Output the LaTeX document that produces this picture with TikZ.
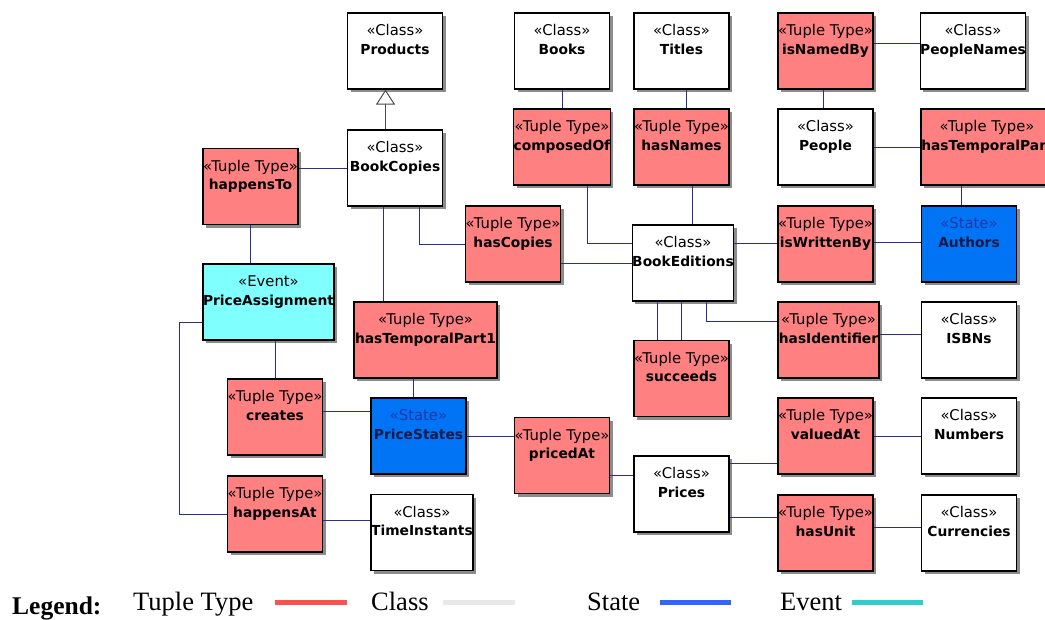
\documentclass[tikz,border=0pt]{standalone}
\usepackage{fontspec}
\setmainfont{Liberation Serif}
\newfontfamily\umlfont{DejaVu Sans}
\usepackage{xcolor}
\usetikzlibrary{arrows.meta,shadows}

\definecolor{tuplered}{RGB}{255,128,128}
\definecolor{stateblue}{RGB}{0,116,245}
\definecolor{statenavy}{RGB}{16,26,70}
\definecolor{stereoblue}{RGB}{35,55,170}
\definecolor{eventcyan}{RGB}{128,255,255}
\definecolor{connblue}{RGB}{45,45,140}
\definecolor{legred}{RGB}{255,80,80}
\definecolor{leggray}{RGB}{232,232,232}
\definecolor{legblue}{RGB}{50,100,255}
\definecolor{legcyan}{RGB}{50,204,204}

\newcommand{\stereo}[1]{{\fontsize{14.8}{18.5}\selectfont«#1»}}

\tikzset{
	umlbox/.style={draw=black,line width=1.1pt,inner sep=0pt,
		text height=41pt,text depth=35pt,minimum width=95pt,align=center,
		font=\umlfont\fontsize{13.8}{18.5}\selectfont,
		drop shadow={shadow xshift=3pt,shadow yshift=-3pt,opacity=.45,fill=black}},
	tuplebox/.style={umlbox,fill=tuplered},
	classbox/.style={umlbox,fill=white},
	statebox/.style={umlbox,fill=stateblue,text=statenavy},
	eventbox/.style={umlbox,fill=eventcyan},
	conn/.style={draw=connblue,line width=1pt},
	legtext/.style={anchor=base west,inner sep=0pt,font=\fontsize{26.5}{28}\selectfont},
}

\begin{document}
\begin{tikzpicture}[x=1pt,y=-1pt]
	\useasboundingbox (0,0) rectangle (1045,619);
	\clip (0,0) rectangle (1045,619);

%	left column
	\node[classbox] (Products) at (395,51) {\stereo{Class}\\\textbf{Products}};
	\node[classbox] (BookCopies) at (395,168) {\stereo{Class}\\\textbf{BookCopies}};
	\node[tuplebox] (happensTo) at (250.5,186.5) {\stereo{Tuple Type}\\\textbf{happensTo}};
	\node[eventbox,minimum width=131pt] (PriceAssignment) at (268.5,302)
		{\stereo{Event}\\\textbf{PriceAssignment}};
	\node[tuplebox,minimum width=143pt] (hasTemporalPart1) at (425.5,340)
		{\stereo{Tuple Type}\\\textbf{hasTemporalPart1}};
	\node[tuplebox] (hasCopies) at (513,244) {\stereo{Tuple Type}\\\textbf{hasCopies}};
	\node[tuplebox] (creates) at (275,417) {\stereo{Tuple Type}\\\textbf{creates}};
	\node[tuplebox] (happensAt) at (275,514) {\stereo{Tuple Type}\\\textbf{happensAt}};
	\node[statebox] (PriceStates) at (418.5,436)
		{{\color{stereoblue}\stereo{State}}\\\textbf{PriceStates}};
	\node[classbox,minimum width=102pt] (TimeInstants) at (422,532.5)
		{\stereo{Class}\\\textbf{TimeInstants}};
	\node[tuplebox] (pricedAt) at (562,455.5) {\stereo{Tuple Type}\\\textbf{pricedAt}};

%	right part
	\node[classbox] (Books) at (562,51) {\stereo{Class}\\\textbf{Books}};
	\node[classbox] (Titles) at (681.5,51) {\stereo{Class}\\\textbf{Titles}};
	\node[tuplebox] (isNamedBy) at (825.5,51) {\stereo{Tuple Type}\\\textbf{isNamedBy}};
	\node[classbox,minimum width=102pt] (PeopleNames) at (973,51)
		{\stereo{Class}\\\textbf{PeopleNames}};
	\node[tuplebox] (composedOf) at (562,147) {\stereo{Tuple Type}\\\textbf{composedOf}};
	\node[tuplebox] (hasNames) at (681.5,147) {\stereo{Tuple Type}\\\textbf{hasNames}};
	\node[classbox] (People) at (825.5,147) {\stereo{Class}\\\textbf{People}};
	\node[tuplebox,minimum width=132pt] (hasTemporalPart) at (987,147)
		{\stereo{Tuple Type}\\\textbf{hasTemporalPart}};
	\node[classbox,minimum width=98pt] (BookEditions) at (683,263)
		{\stereo{Class}\\\textbf{BookEditions}};
	\node[tuplebox] (isWrittenBy) at (825.5,244) {\stereo{Tuple Type}\\\textbf{isWrittenBy}};
	\node[statebox] (Authors) at (969,244)
		{{\color{stereoblue}\stereo{State}}\\\textbf{Authors}};
	\node[tuplebox,minimum width=101pt] (hasIdentifier) at (828.5,340)
		{\stereo{Tuple Type}\\\textbf{hasIdentifier}};
	\node[classbox] (ISBNs) at (969,340) {\stereo{Class}\\\textbf{ISBNs}};
	\node[tuplebox] (succeeds) at (681.5,378.5) {\stereo{Tuple Type}\\\textbf{succeeds}};
	\node[classbox] (Prices) at (681.5,494) {\stereo{Class}\\\textbf{Prices}};
	\node[tuplebox] (valuedAt) at (825.5,436) {\stereo{Tuple Type}\\\textbf{valuedAt}};
	\node[classbox] (Numbers) at (969,436) {\stereo{Class}\\\textbf{Numbers}};
	\node[tuplebox] (hasUnit) at (825.5,533) {\stereo{Tuple Type}\\\textbf{hasUnit}};
	\node[classbox] (Currencies) at (969,533) {\stereo{Class}\\\textbf{Currencies}};

%	====================================================================
	\draw[conn,draw=gray!60!black,-{Triangle[length=15pt,width=19pt,fill=white]}]
		(BookCopies.north -| 385.5,0) -- (Products.south -| 385.5,0);
	\draw[conn] (BookCopies.west -| happensTo.east) -- (BookCopies.west);
	\draw[conn] (happensTo.south) -- (happensTo.south |- PriceAssignment.north);
	\draw[conn] (BookCopies.south -| 383,0) -- (hasTemporalPart1.north -| 383,0);
	\draw[conn] (BookCopies.south -| 419,0) |- (hasCopies.west);
	\draw[conn] (PriceAssignment.south -| creates.north) -- (creates.north);
	\draw[conn] ([yshift=-20pt]PriceAssignment.west) -- ++(-23,0) |- (happensAt.west);
	\draw[conn] (hasTemporalPart1.south -| 413,0) -- (PriceStates.north -| 413,0);
	\draw[conn] (creates.east |- 0,411) -- (PriceStates.west |- 0,411);
	\draw[conn] (happensAt.east |- 0,520) -- (TimeInstants.west |- 0,520);
	\draw[conn] (PriceStates.east) -- (PriceStates.east -| pricedAt.west);
	\draw[conn] (pricedAt.east |- 0,475) -- (Prices.west |- 0,475);
	\draw[conn] (Prices.east |- 0,463) -- (valuedAt.west |- 0,463);
	\draw[conn] (Prices.east |- 0,517) -- (hasUnit.west |- 0,517);
	\draw[conn] (valuedAt.east) -- (Numbers.west);
	\draw[conn] (hasUnit.east |- 0,527) -- (Currencies.west |- 0,527);

	\draw[conn] (Books.south) -- (composedOf.north);
	\draw[conn] (Titles.south -| 686,0) -- (hasNames.north -| 686,0);
	\draw[conn] (isNamedBy.south -| 823,0) -- (People.north -| 823,0);
	\draw[conn] (isNamedBy.east |- 0,43) -- (PeopleNames.west |- 0,43);
	\draw[conn] (People.east) -- (hasTemporalPart.west);
	\draw[conn] (hasTemporalPart.south -| 961,0) -- (Authors.north -| 961,0);
	\draw[conn] (composedOf.south -| 587,0) |- (BookEditions.west |- 0,243);
	\draw[conn] (hasNames.south -| 692,0) -- (BookEditions.north -| 692,0);
	\draw[conn] (BookEditions.west -| hasCopies.east) -- (BookEditions.west);
	\draw[conn] (BookEditions.east |- 0,243) -- (isWrittenBy.west |- 0,243);
	\draw[conn] (isWrittenBy.east |- 0,242) -- (Authors.west |- 0,242);
	\draw[conn] (BookEditions.south -| 706,0) |- (hasIdentifier.west |- 0,321);
	\draw[conn] (hasIdentifier.east |- 0,334) -- (ISBNs.west |- 0,334);
	\draw[conn] (BookEditions.south -| 657.5,0) -- (succeeds.north -| 657.5,0);
	\draw[conn] (BookEditions.south -| 681,0) -- (succeeds.north -| 681,0);

%	legend
%	====================================================================
	\node[anchor=base west,inner sep=0pt,font=\bfseries\fontsize{25.5}{26}\selectfont]
		(legend) at (12,614) {Legend:};
	\node[legtext] (legTuple) at (133,610) {Tuple Type};
	\node[legtext] (legClass) at (371,610) {Class};
	\node[legtext] (legState) at (587,610) {State};
	\node[legtext] (legEvent) at (780,610) {Event};
	\draw[legred,line width=5pt] (275,602) -- (347,602);
	\draw[leggray,line width=5pt] (443,602) -- (515,602);
	\draw[legblue,line width=5pt] (660,602) -- (731,602);
	\draw[legcyan,line width=5pt] (852,602) -- (923,602);
\end{tikzpicture}
\end{document}
